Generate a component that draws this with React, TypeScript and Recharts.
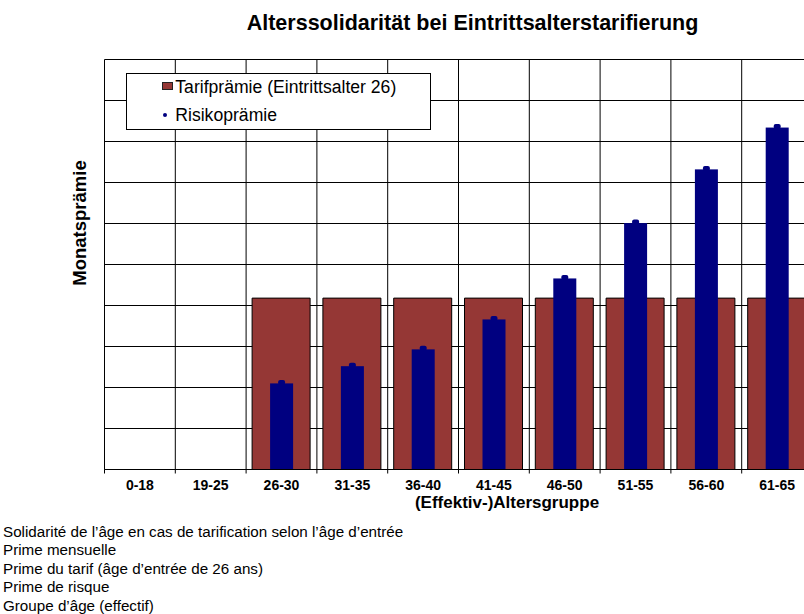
import React from 'react';
import { BarChart, Bar, XAxis, YAxis, CartesianGrid, Legend } from 'recharts';

const groups = ['0-18', '19-25', '26-30', '31-35', '36-40', '41-45', '46-50', '51-55', '56-60', '61-65'];
const tarifPraemie: (number | null)[] = [null, null, 4.18, 4.18, 4.18, 4.18, 4.18, 4.18, 4.18, 4.18];
const risikoPraemie: (number | null)[] = [null, null, 2.1, 2.52, 2.93, 3.66, 4.66, 6.01, 7.32, 8.34];
const yTicks = [0, 1, 2, 3, 4, 5, 6, 7, 8, 9, 10];

const chartTitle = 'Alterssolidarität bei Eintrittsalterstarifierung';
const yTitle = 'Monatsprämie';
const xTitle = '(Effektiv-)Altersgruppe';
const tarifName = 'Tarifprämie (Eintrittsalter 26)';
const risikoName = 'Risikoprämie';
const footnotes = [
  'Solidarité de l’âge en cas de tarification selon l’âge d’entrée',
  'Prime mensuelle',
  'Prime du tarif (âge d’entrée de 26 ans)',
  'Prime de risque',
  'Groupe d’âge (effectif)',
];

const data = groups.map((g, i) => ({ group: g, tarif: tarifPraemie[i], risiko: risikoPraemie[i] }));

const FONT = "'Liberation Sans', Arial, Helvetica, sans-serif";
const BROWN = '#953735';
const NAVY = '#000080';
const TICK_MARGIN = 11;

const RiskShape = (props: any) => {
  const { x, y, width, height, fill } = props;
  if (height == null || !(height > 0)) return null;
  return (
    <g>
      <rect x={x} y={y} width={width} height={height} fill={fill} />
      <rect x={x + width / 2 - 3.5} y={y - 3.5} width={7} height={5} rx={2} fill={fill} />
    </g>
  );
};

const CategoryTick = (props: any) => {
  const { x, y, payload, width, visibleTicksCount, index } = props;
  let half = payload && typeof payload.offset === 'number' && payload.offset > 0 ? payload.offset : 0;
  if (!half && width && visibleTicksCount) half = width / visibleTicksCount / 2;
  const lineTop = y - TICK_MARGIN;
  const isLast = index === (visibleTicksCount || groups.length) - 1;
  return (
    <g>
      <line x1={x - half} x2={x - half} y1={lineTop} y2={lineTop + 4} stroke="#000" strokeWidth={1} />
      {isLast ? (
        <line x1={x + half} x2={x + half} y1={lineTop} y2={lineTop + 4} stroke="#000" strokeWidth={1} />
      ) : null}
      <text
        x={x}
        y={y}
        dy="0.71em"
        textAnchor="middle"
        fill="#000"
        fontSize={14}
        fontWeight="bold"
        fontFamily={FONT}
      >
        {payload.value}
      </text>
    </g>
  );
};

const renderLegend = (props: any) => {
  const payload = props.payload || [];
  return (
    <div style={{ position: 'relative', width: '100%', height: '100%', fontFamily: FONT }}>
      {payload.map((entry: any, i: number) => {
        const isTarif = entry.dataKey === 'tarif';
        const top = isTarif ? 2.7 : 31.2;
        return (
          <div key={i}>
            {isTarif ? (
              <div
                style={{
                  position: 'absolute',
                  left: 35,
                  top: 8.3,
                  width: 11,
                  height: 8,
                  background: BROWN,
                  border: '1px solid #222',
                  boxSizing: 'border-box',
                }}
              />
            ) : (
              <div
                style={{
                  position: 'absolute',
                  left: 36,
                  top: 39.3,
                  width: 4,
                  height: 4,
                  borderRadius: 2,
                  background: NAVY,
                }}
              />
            )}
            <div
              style={{
                position: 'absolute',
                left: 48.3,
                top,
                fontSize: 17.6,
                lineHeight: '20px',
                color: '#000',
                whiteSpace: 'nowrap',
              }}
            >
              {entry.value}
            </div>
          </div>
        );
      })}
    </div>
  );
};

const verticalLines = ({ offset }: any) =>
  groups.concat(['']).map((_, i) => offset.left + (offset.width * i) / groups.length);

export default function App() {
  return (
    <div
      style={{
        position: 'absolute',
        left: 0,
        top: 0,
        width: 804,
        height: 614,
        overflow: 'hidden',
        background: '#fff',
        fontFamily: FONT,
      }}
    >
      <BarChart
        width={830}
        height={520}
        data={data}
        margin={{ top: 59.5, right: 17.5, left: 104.5, bottom: 10 }}
      >
        <CartesianGrid
          stroke="#000"
          strokeWidth={1}
          verticalCoordinatesGenerator={verticalLines}
        />
        <XAxis
          xAxisId="cat"
          dataKey="group"
          height={40.5}
          axisLine={{ stroke: '#000' }}
          tickLine={false}
          tickSize={0}
          tickMargin={TICK_MARGIN}
          interval={0}
          tick={CategoryTick}
        />
        <XAxis xAxisId="blue" dataKey="group" hide height={0} />
        <YAxis hide domain={[0, 10]} ticks={yTicks} allowDataOverflow width={0} />
        <Legend
          layout="vertical"
          align="center"
          verticalAlign="middle"
          content={renderLegend}
          wrapperStyle={{
            left: 126,
            top: 73,
            width: 305,
            height: 57,
            border: '1px solid #000',
            background: '#fff',
            boxSizing: 'border-box',
          }}
        />
        <Bar
          xAxisId="cat"
          dataKey="tarif"
          name={tarifName}
          fill={BROWN}
          stroke="#000"
          strokeWidth={1}
          barSize={58}
          isAnimationActive={false}
        />
        <Bar
          xAxisId="blue"
          dataKey="risiko"
          name={risikoName}
          fill={NAVY}
          barSize={23}
          shape={RiskShape}
          isAnimationActive={false}
        />
      </BarChart>

      <div
        style={{
          position: 'absolute',
          left: 172.5,
          top: 13,
          width: 600,
          textAlign: 'center',
          fontSize: 21.5,
          fontWeight: 'bold',
          lineHeight: '21px',
          color: '#000',
          whiteSpace: 'nowrap',
        }}
      >
        {chartTitle}
      </div>

      <div
        style={{
          position: 'absolute',
          left: 80 - 100,
          top: 222.5 - 10,
          width: 200,
          height: 20,
          lineHeight: '20px',
          textAlign: 'center',
          fontSize: 18.5,
          fontWeight: 'bold',
          color: '#000',
          transform: 'rotate(-90deg)',
          whiteSpace: 'nowrap',
        }}
      >
        {yTitle}
      </div>

      <div
        style={{
          position: 'absolute',
          left: 307,
          top: 493,
          width: 400,
          height: 20,
          lineHeight: '20px',
          textAlign: 'center',
          fontSize: 17,
          fontWeight: 'bold',
          color: '#000',
          whiteSpace: 'nowrap',
        }}
      >
        {xTitle}
      </div>

      <div
        style={{
          position: 'absolute',
          left: 3,
          top: 522.5,
          fontSize: 15.2,
          lineHeight: '18.6px',
          color: '#000',
        }}
      >
        {footnotes.map((t, i) => (
          <div key={i} style={{ whiteSpace: 'nowrap' }}>
            {t}
          </div>
        ))}
      </div>
    </div>
  );
}
